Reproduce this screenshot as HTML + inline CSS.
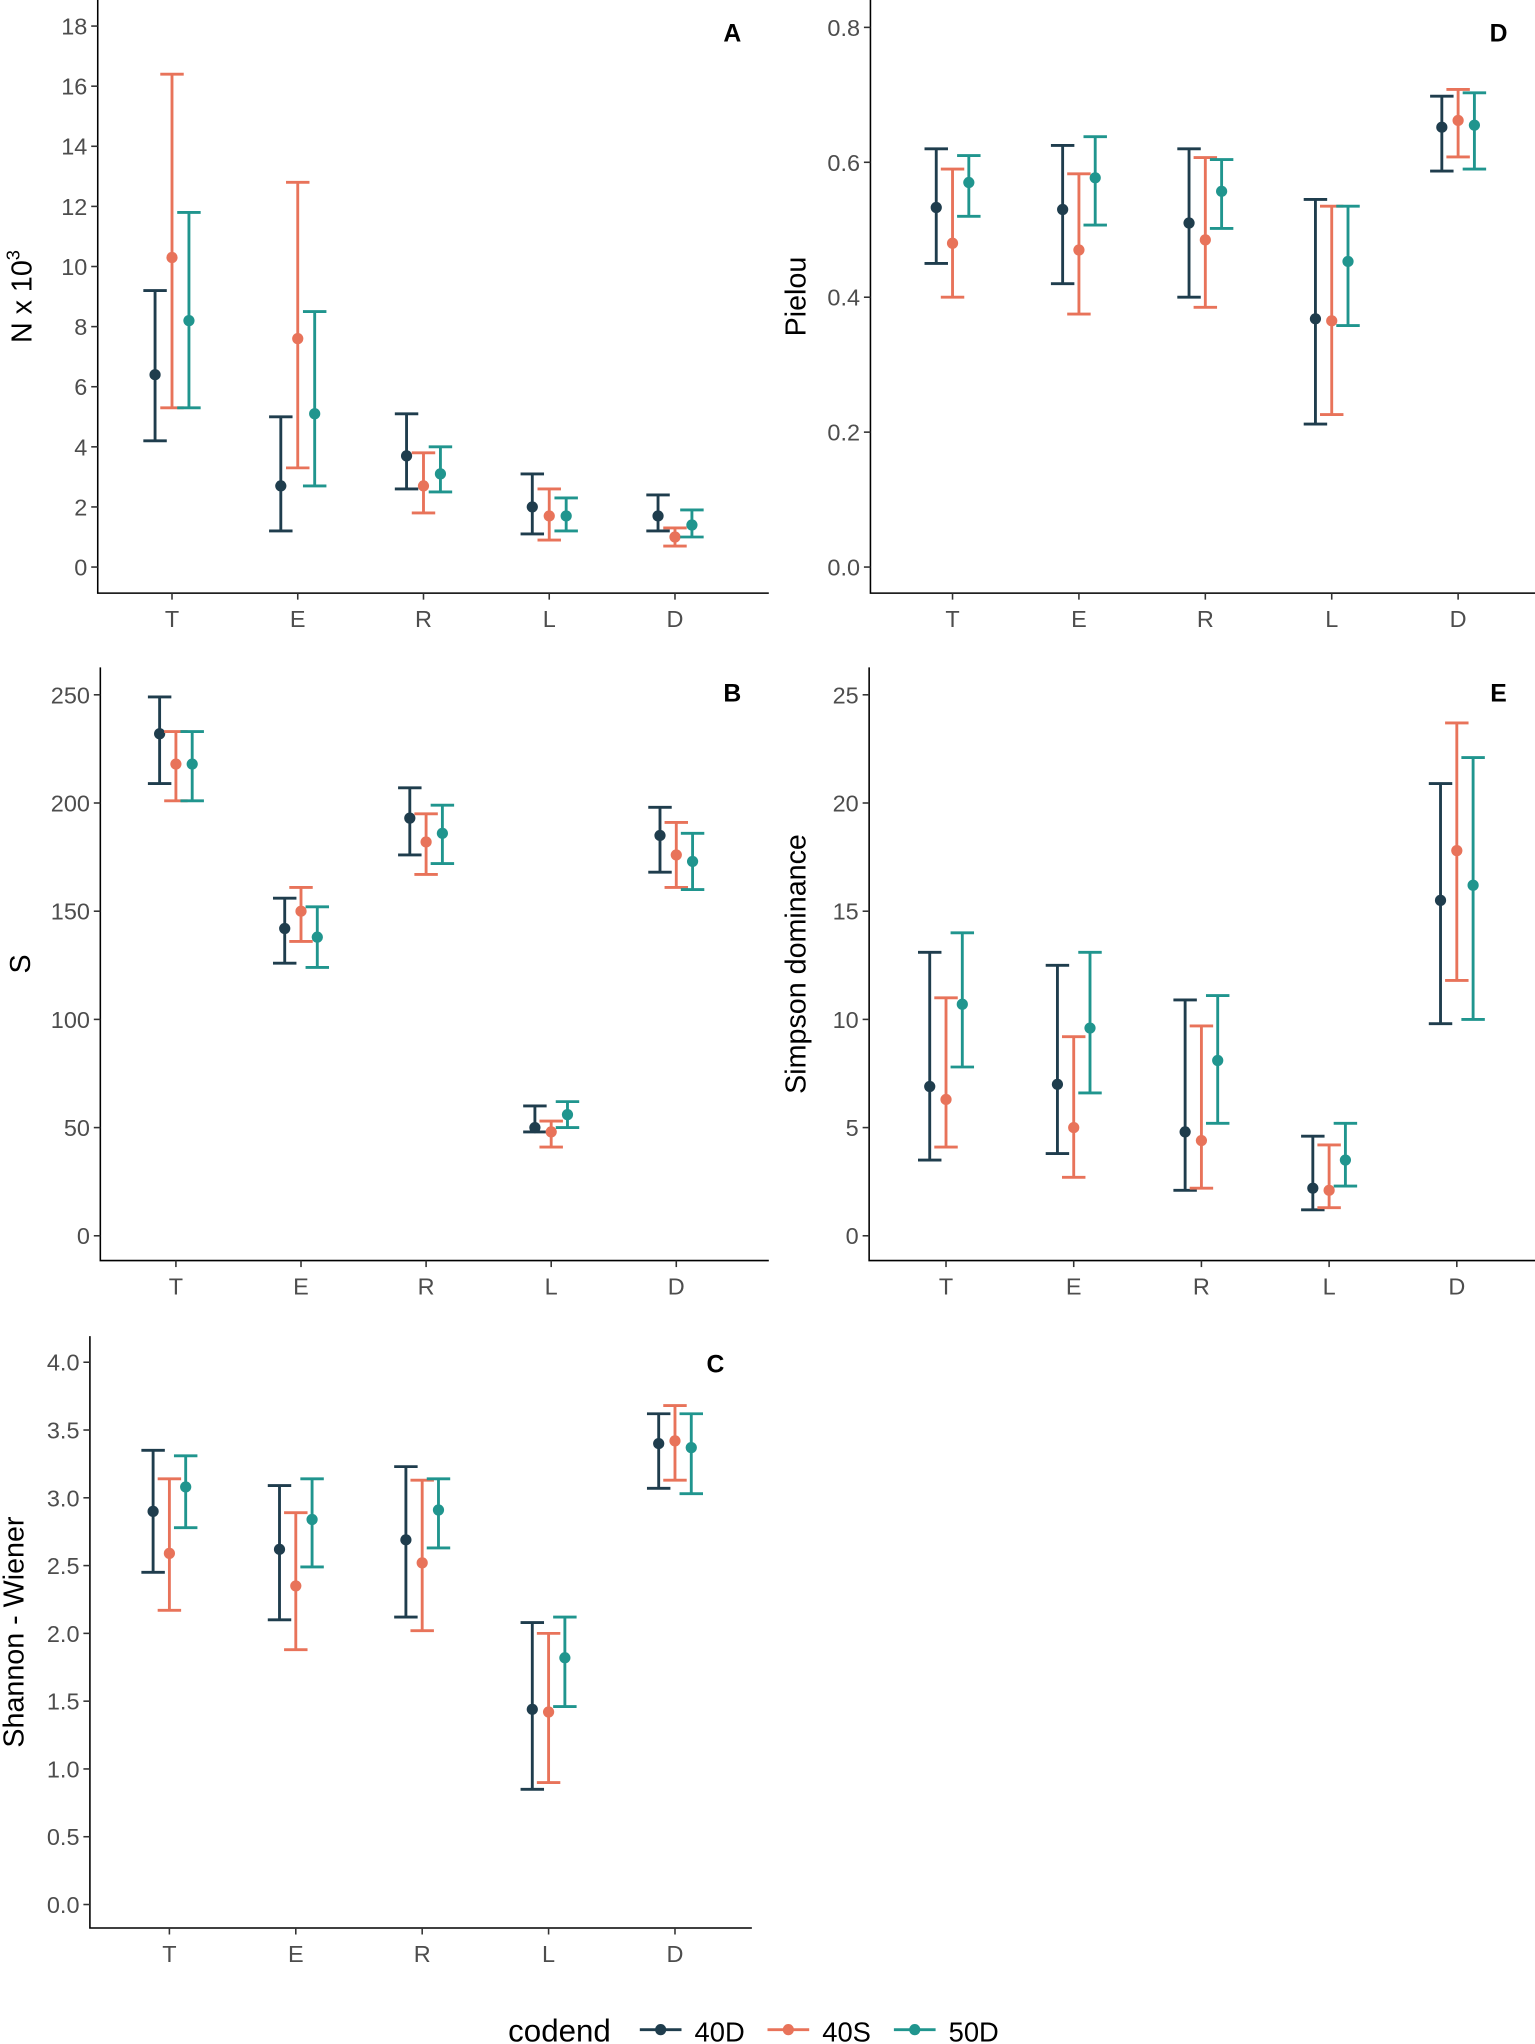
<!DOCTYPE html>
<html><head><meta charset="utf-8"><style>
html,body{margin:0;padding:0;background:#fff}
svg{display:block}
text{font-family:"Liberation Sans",sans-serif}
</style></head><body>
<svg id="chart" width="1535" height="2044" viewBox="0 0 1178 1568" preserveAspectRatio="none" xmlns="http://www.w3.org/2000/svg"></svg>
<script>
const categories = ["T","E","R","L","D"];
const groups = ["40D","40S","50D"];
const colors = ["#1f3d4d","#e8735a","#20958e"];
// Panel A: N x 10^3
const aMean = [[6.4,2.7,3.7,2.0,1.7],[10.3,7.6,2.7,1.7,1.0],[8.2,5.1,3.1,1.7,1.4]];
const aLow  = [[4.2,1.2,2.6,1.1,1.2],[5.3,3.3,1.8,0.9,0.7],[5.3,2.7,2.5,1.2,1.0]];
const aHigh = [[9.2,5.0,5.1,3.1,2.4],[16.4,12.8,3.8,2.6,1.3],[11.8,8.5,4.0,2.3,1.9]];
const aTicks = [0,2,4,6,8,10,12,14,16,18];
// Panel D: Pielou
const dMean = [[0.533,0.53,0.51,0.368,0.652],[0.48,0.47,0.485,0.365,0.662],[0.57,0.577,0.557,0.453,0.655]];
const dLow  = [[0.45,0.42,0.40,0.212,0.587],[0.40,0.375,0.385,0.226,0.608],[0.52,0.507,0.502,0.358,0.59]];
const dHigh = [[0.62,0.625,0.62,0.545,0.698],[0.59,0.583,0.607,0.535,0.708],[0.61,0.638,0.604,0.535,0.703]];
const dTicks = ["0.0","0.2","0.4","0.6","0.8"];
// Panel B: S
const bMean = [[232,142,193,50,185],[218,150,182,48,176],[218,138,186,56,173]];
const bLow  = [[209,126,176,48,168],[201,136,167,41,161],[201,124,172,50,160]];
const bHigh = [[249,156,207,60,198],[233,161,195,53,191],[233,152,199,62,186]];
const bTicks = [0,50,100,150,200,250];
// Panel E: Simpson dominance
const eMean = [[6.9,7.0,4.8,2.2,15.5],[6.3,5.0,4.4,2.1,17.8],[10.7,9.6,8.1,3.5,16.2]];
const eLow  = [[3.5,3.8,2.1,1.2,9.8],[4.1,2.7,2.2,1.3,11.8],[7.8,6.6,5.2,2.3,10.0]];
const eHigh = [[13.1,12.5,10.9,4.6,20.9],[11.0,9.2,9.7,4.2,23.7],[14.0,13.1,11.1,5.2,22.1]];
const eTicks = [0,5,10,15,20,25];
// Panel C: Shannon-Wiener
const cMean = [[2.9,2.62,2.69,1.44,3.40],[2.59,2.35,2.52,1.42,3.42],[3.08,2.84,2.91,1.82,3.37]];
const cLow  = [[2.45,2.1,2.12,0.85,3.07],[2.17,1.88,2.02,0.9,3.13],[2.78,2.49,2.63,1.46,3.03]];
const cHigh = [[3.35,3.09,3.23,2.08,3.62],[3.14,2.89,3.13,2.0,3.68],[3.31,3.14,3.14,2.12,3.62]];
const cTicks = ["0.0","0.5","1.0","1.5","2.0","2.5","3.0","3.5","4.0"];

const NS="http://www.w3.org/2000/svg";
const svg=document.getElementById('chart');
function mk(tag,attrs,parent,txt){const e=document.createElementNS(NS,tag);for(const k in attrs)e.setAttribute(k,attrs[k]);if(txt!==undefined)e.textContent=txt;parent.appendChild(e);return e;}

function panel(p){
  const g=mk('g',{},svg);
  
  
  const ys=v=>p.y0+(v-p.v0)*(p.y1-p.y0)/(p.v1-p.v0);
  const xs=i=>p.cx0+i*p.step;
  const ax=mk('path',{d:`M${p.left} ${p.top}V${p.bottom}H${p.right}`,fill:'none',stroke:'#000','stroke-width':1.2},g);
  
  
  p.ticks.forEach(t=>{
    const y=ys(parseFloat(t));
    mk('line',{x1:p.left-5,x2:p.left,y1:y,y2:y,stroke:'#333','stroke-width':1.2},g);
    const tl=mk('text',{x:p.left-8,y:y+6.5,'text-anchor':'end','font-size':18,fill:'#4d4d4d'},g,String(t));
    
    
  });
  categories.forEach((c,i)=>{
    const x=xs(i);
    mk('line',{x1:x,x2:x,y1:p.bottom,y2:p.bottom+5,stroke:'#333','stroke-width':1.2},g);
    const tl=mk('text',{x:x,y:p.bottom+26,'text-anchor':'middle','font-size':18,fill:'#4d4d4d'},g,c);
    
    
  });
  const yt=mk('text',{transform:`translate(${p.titleX},${(p.top+p.bottom)/2}) rotate(-90)`,'text-anchor':'middle','font-size':22,fill:'#000'},g);
  
  
  if(p.sup){yt.textContent=p.title;mk('tspan',{'font-size':14,dy:-9},yt,p.sup);}else yt.textContent=p.title;
  const lt=mk('text',{x:p.right-28,y:p.top+(p.letterDy||0),'font-size':19,'font-weight':'bold',fill:'#000','text-anchor':'middle'},g,p.letter);
  
  
  groups.forEach((gr,k)=>{
    categories.forEach((c,i)=>{
      const x=xs(i)+(k-1)*p.dodge;
      const yl=ys(p.low[k][i]),yh=ys(p.high[k][i]),ym=ys(p.mean[k][i]);
      const eb=mk('path',{d:`M${x-9} ${yh}H${x+9}M${x} ${yh}V${yl}M${x-9} ${yl}H${x+9}`,stroke:colors[k],'stroke-width':2.2,fill:'none'},g);
      
      
      const pt=mk('circle',{cx:x,cy:ym,r:4.3,fill:colors[k]},g);
      
      
    });
  });
}
panel({letter:'A',left:75,right:590,top:0,bottom:455,y0:435,y1:20,v0:0,v1:18,cx0:132,step:96.5,dodge:13,ticks:aTicks,titleX:24,title:'N x 10',sup:'3',mean:aMean,low:aLow,high:aHigh,letterDy:32});
panel({letter:'D',left:668,right:1178,top:0,bottom:455,y0:435,y1:21,v0:0,v1:0.8,cx0:731,step:97,dodge:12.5,ticks:dTicks,titleX:618,title:'Pielou',mean:dMean,low:dLow,high:dHigh,letterDy:32});
panel({letter:'B',left:77,right:590,top:512,bottom:967,y0:948,y1:533,v0:0,v1:250,cx0:135,step:96,dodge:12.5,ticks:bTicks,titleX:23,title:'S',mean:bMean,low:bLow,high:bHigh,letterDy:26});
panel({letter:'E',left:667,right:1178,top:512,bottom:967,y0:948,y1:533,v0:0,v1:25,cx0:726,step:98,dodge:12.5,ticks:eTicks,titleX:618,title:'Simpson dominance',mean:eMean,low:eLow,high:eHigh,letterDy:26});
panel({letter:'C',left:69,right:577,top:1025,bottom:1479,y0:1461,y1:1045,v0:0,v1:4,cx0:130,step:97,dodge:12.5,ticks:cTicks,titleX:18,title:'Shannon - Wiener',mean:cMean,low:cLow,high:cHigh,letterDy:28});

// legend
const lg=mk('g',{},svg);


mk('text',{x:390,y:1566,'font-size':24,fill:'#000'},lg,'codend');
const lx=[491,589,686];
groups.forEach((gr,k)=>{
  const e=mk('g',{},lg);
  
  
  mk('line',{x1:lx[k],x2:lx[k]+32,y1:1557,y2:1557,stroke:colors[k],'stroke-width':2.2},e);
  mk('circle',{cx:lx[k]+16,cy:1557,r:4.3,fill:colors[k]},e);
  mk('text',{x:lx[k]+42,y:1566,'font-size':21,fill:'#000'},e,gr);
});
</script>
</body></html>
